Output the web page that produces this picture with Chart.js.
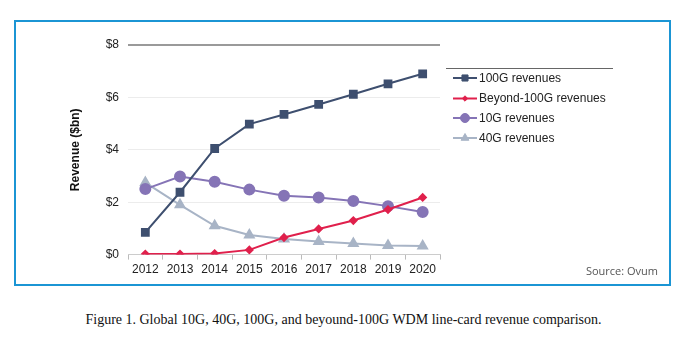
<!DOCTYPE html>
<html>
<head>
<meta charset="utf-8">
<script src="https://cdn.jsdelivr.net/npm/chart.js@4/dist/chart.umd.min.js"></script>
<style>
  html, body { margin:0; padding:0; background:#fff; }
  body { width:687px; height:350px; position:relative; overflow:hidden; }
  #frame { position:absolute; left:14px; top:20px; width:653px; height:262px; border:2px solid #1b95d4; box-sizing:content-box; }
  #wrap { position:absolute; left:0; top:0; width:687px; height:300px; }
  #source { position:absolute; right:29px; top:263px; font-family:"Open Sans", sans-serif; font-size:11px; color:#555; }
  #caption { position:absolute; left:0; width:687px; top:312px; text-align:center; font-family:"Liberation Serif", "Times New Roman", serif; font-size:14px; color:#111; }
</style>
</head>
<body>
<div id="frame"></div>
<div id="wrap"><canvas id="c" width="687" height="300"></canvas></div>
<div id="source">Source: Ovum</div>
<div id="caption">Figure 1. Global 10G, 40G, 100G, and beyound-100G WDM line-card revenue comparison.</div>
<script>
const years = ['2012','2013','2014','2015','2016','2017','2018','2019','2020'];
const rev100G = [0.85, 2.38, 4.05, 4.98, 5.35, 5.73, 6.12, 6.52, 6.90];
const revBeyond100G = [0.02, 0.02, 0.04, 0.18, 0.65, 0.98, 1.30, 1.72, 2.18];
const rev10G = [2.50, 2.98, 2.78, 2.48, 2.25, 2.18, 2.05, 1.85, 1.63];
const rev40G = [2.75, 1.90, 1.10, 0.75, 0.60, 0.50, 0.42, 0.35, 0.33];
const seriesNames = ['100G revenues', 'Beyond-100G revenues', '10G revenues', '40G revenues'];
const yTicks = [0, 2, 4, 6, 8];

const styles = [
  { color:'#3e4f6f', point:'rect', radius:4.8 },
  { color:'#e0204c', point:'rectRot', radius:3.2 },
  { color:'#8574b6', point:'circle', radius:5 },
  { color:'#a8b4c6', point:'triangle', radius:5 }
];
const values = [rev100G, revBeyond100G, rev10G, rev40G];

const datasets = values.map((v, i) => ({
  label: seriesNames[i],
  data: v,
  borderColor: styles[i].color,
  backgroundColor: styles[i].color,
  pointBackgroundColor: styles[i].color,
  pointBorderColor: styles[i].color,
  pointStyle: styles[i].point,
  pointRadius: styles[i].radius,
  borderWidth: 2,
  tension: 0,
  fill: false,
  order: i
}));

const legendPlugin = {
  id: 'lineLegend',
  afterDraw(chart) {
    const ctx = chart.ctx;
    ctx.save();
    ctx.strokeStyle = '#666';
    ctx.lineWidth = 1;
    ctx.beginPath();
    ctx.moveTo(446, 68.5);
    ctx.lineTo(613, 68.5);
    ctx.stroke();
    const ys = [78, 98.5, 118, 138];
    chart.data.datasets.forEach((ds, i) => {
      const y = ys[i];
      const st = styles[i];
      ctx.strokeStyle = ds.borderColor;
      ctx.lineWidth = 2;
      ctx.beginPath();
      ctx.moveTo(453, y);
      ctx.lineTo(477, y);
      ctx.stroke();
      ctx.fillStyle = ds.borderColor;
      ctx.lineWidth = 1;
      Chart.helpers.drawPoint(ctx, { pointStyle: st.point, radius: st.radius - 0.5, rotation: 0, borderWidth: 1 }, 465, y);
      ctx.fillStyle = '#222';
      ctx.font = '12px "Liberation Sans", Arial, sans-serif';
      ctx.textBaseline = 'middle';
      ctx.textAlign = 'left';
      ctx.fillText(ds.label, 479, y + 0.5);
    });
    ctx.restore();
  }
};

new Chart(document.getElementById('c'), {
  type: 'line',
  data: { labels: years, datasets },
  options: {
    responsive: false,
    animation: false,
    devicePixelRatio: 1,
    layout: { padding: { left: 66, right: 247, top: 45, bottom: 20 } },
    plugins: { legend: { display: false }, tooltip: { enabled: false } },
    scales: {
      x: {
        offset: true,
        grid: { offset: true, drawOnChartArea: false, drawTicks: true, tickLength: 5, color: '#bbb' },
        border: { display: true, color: '#ccc', width: 1 },
        ticks: { color: '#222', font: { family: 'Liberation Sans, Arial, sans-serif', size: 12 }, padding: 3, maxRotation: 0 }
      },
      y: {
        min: 0, max: 8,
        afterBuildTicks(scale) { scale.ticks = yTicks.map(v => ({ value: v })); },
        afterFit(scale) { scale.width = 62; },
        grid: {
          drawTicks: false,
          color: ctx => ctx.tick && ctx.tick.value === 8 ? '#9a9a9a' : '#ececec',
          lineWidth: ctx => ctx.tick && ctx.tick.value === 8 ? 2 : 1
        },
        border: { display: false },
        ticks: {
          color: '#222', padding: 9,
          font: { family: 'Liberation Sans, Arial, sans-serif', size: 12 },
          callback: v => '$' + v
        },
        title: {
          display: true, text: 'Revenue ($bn)', color: '#111',
          font: { family: 'Liberation Sans, Arial, sans-serif', size: 12, weight: 'bold' },
          padding: { top: 2, bottom: 0 }
        }
      }
    }
  },
  plugins: [legendPlugin]
});
</script>
</body>
</html>
